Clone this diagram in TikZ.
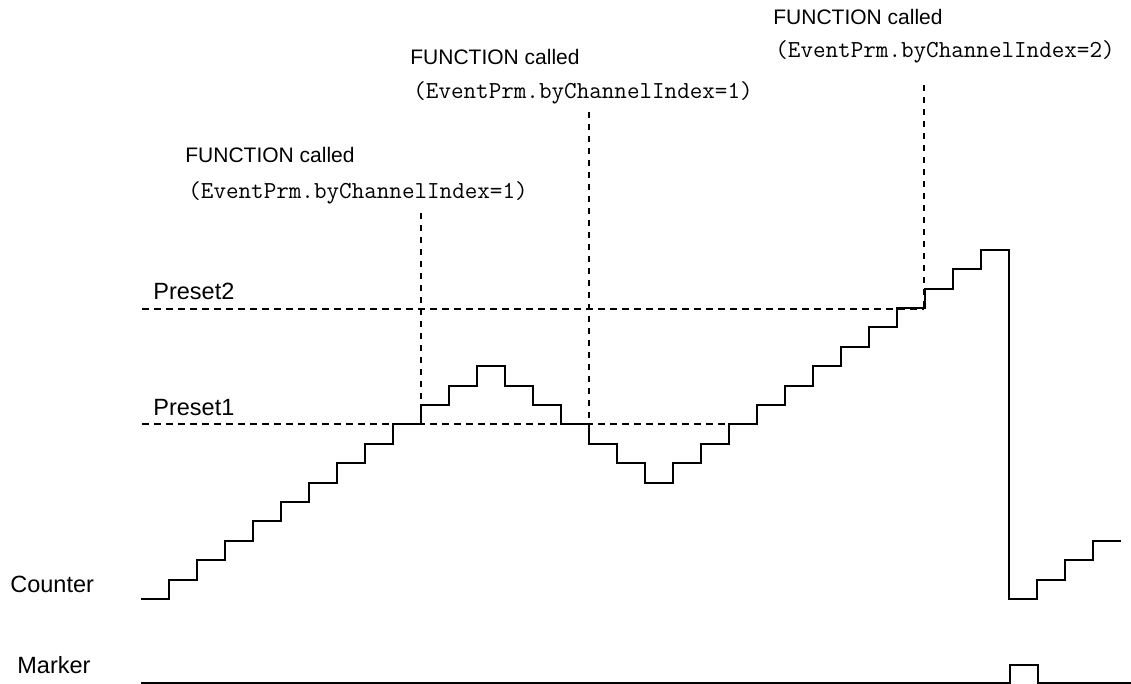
\documentclass[tikz,border=0pt]{standalone}
\usepackage{fontspec}
\setmainfont{Liberation Sans}

\tikzset{
  signal/.style={line width=1pt, line join=miter},
  presetline/.style={dash pattern=on 3.5pt off 2.5pt, line width=0.9pt},
  eventline/.style={dash pattern=on 3pt off 3pt, line width=0.8pt},
  sidelabel/.style={anchor=west, inner sep=0pt, font=\fontsize{11.75}{14}\selectfont},
  calllabel/.style={anchor=west, inner sep=0pt, font=\fontsize{10.5}{12}\selectfont},
  idxlabel/.style={anchor=west, inner sep=0pt, font=\fontsize{12.2}{14}\selectfont\ttfamily},
}

\begin{document}
\begin{tikzpicture}[x=0.5pt,y=-0.5pt]
\useasboundingbox (0,0) rectangle (1131,684);

% signal names and preset levels
\node[sidelabel] (counter) at (10,584) {Counter};
\node[sidelabel] (marker) at (17,665) {Marker};
\node[sidelabel] (preset2) at (153,291) {Preset2};
\node[sidelabel] (preset1) at (153,408) {Preset1};

% function calls
\node[calllabel] (fn1) at (185,155) {FUNCTION called};
\node[idxlabel] (idx1) at (188,193) {(EventPrm.byChannelIndex=1)};
\node[calllabel] (fn2) at (410,57) {FUNCTION called};
\node[idxlabel] (idx2) at (413,93) {(EventPrm.byChannelIndex=1)};
\node[calllabel] (fn3) at (773,17) {FUNCTION called};
\node[idxlabel] (idx3) at (775,52) {(EventPrm.byChannelIndex=2)};

% ends of the dashed lines
\coordinate (p1start) at (142,424);
\coordinate (p1end) at (729,424);
\coordinate (p2start) at (142,309);
\coordinate (p2end) at (924,309);
\coordinate (ev1top) at (421,213);
\coordinate (ev1hit) at (421,424);
\coordinate (ev2top) at (589,112);
\coordinate (ev2hit) at (589,424);
\coordinate (ev3top) at (924,85);
\coordinate (ev3hit) at (924,309);

\draw[presetline] (p1start) -- (p1end);
\draw[presetline] (p2start) -- (p2end);
\draw[eventline] (ev1top) -- (ev1hit);
\draw[eventline] (ev2top) -- (ev2hit);
\draw[eventline] (ev3top) -- (ev3hit);

% counter value, one step per clock
\draw[signal] (141,599)
  \foreach \lv [count=\i] in {0,1,2,3,4,5,6,7,8,9,10,11,12,11,10,9,8,7,6,7,8,9,10,11,12,13,14,15,16,17,18,0,1,2,3}
  { |- ({141+28*\i},{599-19.4*\lv}) };

% marker pulse
\draw[signal] (141,683) -| (1010,665) -| (1038,683) -- (1131,683);
\end{tikzpicture}
\end{document}
